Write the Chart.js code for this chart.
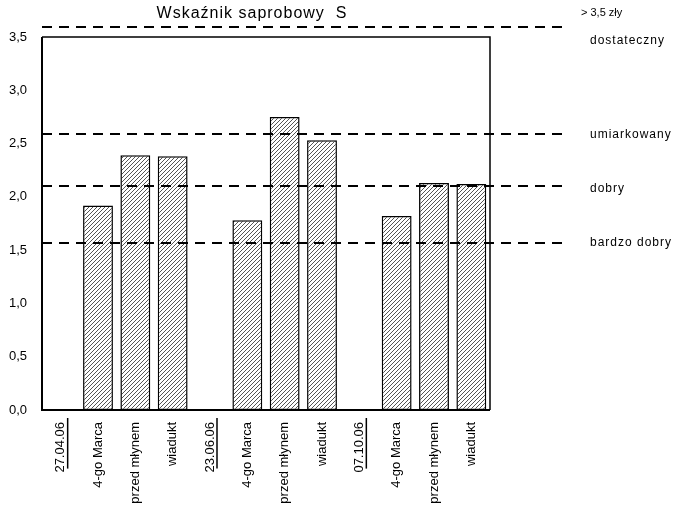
<!DOCTYPE html>
<html>
<head>
<meta charset="utf-8">
<script src="https://cdn.jsdelivr.net/npm/chart.js@4/dist/chart.umd.min.js"></script>
<style>
	body { margin: 0; background: #fff; }
	#wrap { width: 676px; height: 512px; }
</style>
</head>
<body>
<div id="wrap"><canvas id="saprobChart"></canvas></div>
<script>
// categories: dates are empty slots, sites carry bars
const categories = ["27.04.06", "4-go Marca", "przed młynem", "wiadukt",
	"23.06.06", "4-go Marca", "przed młynem", "wiadukt",
	"07.10.06", "4-go Marca", "przed młynem", "wiadukt"];
const dateLabels = ["27.04.06", "23.06.06", "07.10.06"];
const saprobValues = [null, 1.92, 2.39, 2.38, null, 1.78, 2.75, 2.53, null, 1.82, 2.13, 2.12];

// class limits (dashed lines) and the labels on the right
const limitValues = [3.59, 2.59, 2.1, 1.57];
const classNames = ["> 3,5 zły", "dostateczny", "umiarkowany", "dobry", "bardzo dobry"];
const classLabelValues = [3.73, 3.47, 2.58, 2.08, 1.57];

const FONT = "Arial, 'Liberation Sans', sans-serif";

// hatch pattern ////
function makeHatch() {
	const c = document.createElement("canvas");
	c.width = 4;
	c.height = 4;
	const g = c.getContext("2d");
	g.fillStyle = "#fff";
	g.fillRect(0, 0, 4, 4);
	g.strokeStyle = "#555";
	g.lineWidth = 1;
	g.beginPath();
	g.moveTo(0, 4); g.lineTo(4, 0);
	g.moveTo(-1, 1); g.lineTo(1, -1);
	g.moveTo(3, 5); g.lineTo(5, 3);
	g.stroke();
	return g.createPattern(c, "repeat");
}

const extrasPlugin = {
	id: "extras",
	afterDraw(chart) {
		const ctx = chart.ctx;
		const a = chart.chartArea;
		const y = chart.scales.y;
		const x = chart.scales.x;
		ctx.save();

		// frame
		ctx.strokeStyle = "#000";
		ctx.lineWidth = 1.5;
		ctx.beginPath();
		ctx.moveTo(a.left, a.top);
		ctx.lineTo(a.right, a.top);
		ctx.lineTo(a.right, a.bottom);
		ctx.stroke();
		ctx.lineWidth = 2;
		ctx.beginPath();
		ctx.moveTo(a.left, a.top);
		ctx.lineTo(a.left, a.bottom);
		ctx.lineTo(a.right, a.bottom);
		ctx.stroke();

		// dashed limit lines
		ctx.setLineDash([10, 7]);
		ctx.lineWidth = 2;
		limitValues.forEach(v => {
			const py = Math.round(y.getPixelForValue(v));
			ctx.beginPath();
			ctx.moveTo(a.left, py);
			ctx.lineTo(567, py);
			ctx.stroke();
		});
		ctx.setLineDash([]);

		// title
		ctx.fillStyle = "#000";
		ctx.font = "16px " + FONT;
		ctx.letterSpacing = "1px";
		ctx.textAlign = "center";
		ctx.textBaseline = "middle";
		ctx.fillText("Wskaźnik saprobowy  S", 252, 14);

		// class labels
		ctx.textAlign = "left";
		classNames.forEach((t, i) => {
			ctx.font = (i === 0 ? "11px " : "12px ") + FONT;
			ctx.letterSpacing = i === 0 ? "0px" : "1px";
			ctx.fillText(t, i === 0 ? 581 : 590, y.getPixelForValue(classLabelValues[i]));
		});
		ctx.letterSpacing = "0px";

		// underline date labels
		ctx.font = "13px " + FONT;
		ctx.lineWidth = 1.5;
		categories.forEach((c, i) => {
			if (!dateLabels.includes(c)) return;
			const px = x.getPixelForTick(i);
			const w = ctx.measureText(c).width;
			ctx.beginPath();
			ctx.moveTo(px + 7, a.bottom + 8);
			ctx.lineTo(px + 7, a.bottom + 8 + w);
			ctx.stroke();
		});
		ctx.restore();
	}
};

const saprobData = {
	labels: categories,
	datasets: [
		{
			label: "Wskaźnik saprobowy S",
			data: saprobValues,
			backgroundColor: makeHatch(),
			borderColor: "#000",
			borderWidth: 1.5,
			borderSkipped: false,
			barPercentage: 0.8,
			categoryPercentage: 1,
		},
	],
};

const saprobConfig = {
	type: "bar",
	data: saprobData,
	options: {
		responsive: true,
		maintainAspectRatio: false,
		animation: false,
		layout: { padding: { left: 0, right: 186, top: 37, bottom: 0 } },
		plugins: {
			legend: { display: false },
			title: { display: false },
			tooltip: { enabled: false },
		},
		scales: {
			x: {
				grid: { display: false },
				border: { display: false },
				ticks: {
					minRotation: 90,
					maxRotation: 90,
					autoSkip: false,
					color: "#000",
					padding: 4,
					font: { family: FONT, size: 13 },
				},
				afterFit(s) { s.height = 102; },
			},
			y: {
				min: 0,
				max: 3.5,
				grid: { display: false },
				border: { display: false },
				ticks: {
					stepSize: 0.5,
					color: "#000",
					padding: 7,
					font: { family: FONT, size: 13 },
					callback: v => v.toFixed(1).replace(".", ","),
				},
				afterFit(s) { s.width = 42; },
			},
		},
	},
	plugins: [extrasPlugin],
};

const saprobChart = new Chart(document.getElementById("saprobChart"), saprobConfig);
</script>
</body>
</html>
